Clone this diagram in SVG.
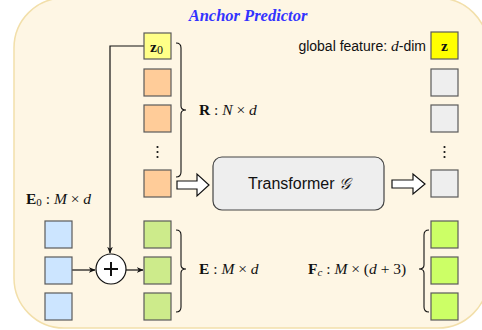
<svg xmlns="http://www.w3.org/2000/svg" width="482" height="330" viewBox="0 0 482 330">
<defs>
<style>
.bg{fill:#fef6e4;stroke:#f2dfaa;stroke-width:1.5}
.box{stroke:#5a5a5a;stroke-width:1.2}
.or{fill:#ffcc99}.bl{fill:#cce5ff}.gr{fill:#cdeb8b}.gr2{fill:#ccff66}.gy{fill:#eeeeee}.y1{fill:#ffff88}.y2{fill:#ffff00}
.ln{fill:none;stroke:#111;stroke-width:1.2}
.br{fill:none;stroke:#111;stroke-width:1.1}
.m{font-family:"Liberation Serif","DejaVu Serif",serif;font-size:15.5px;fill:#111}
.s{font-family:"Liberation Sans",Arial,sans-serif;fill:#111}
.b{font-weight:bold}.i{font-style:italic}
.dots{fill:#111}
.ha{fill:#fff;stroke:#111;stroke-width:1.2}
</style>
<marker id="ah" viewBox="0 0 10 10" refX="9" refY="5" markerWidth="7" markerHeight="7" orient="auto" markerUnits="userSpaceOnUse">
<path d="M0,1 L10,5 L0,9 L3,5 Z" fill="#111"/>
</marker>
</defs>
<rect class="bg" x="14" y="-2" width="474" height="330" rx="50"/>
<text x="248" y="21" text-anchor="middle" font-family="Liberation Serif,serif" font-size="16.5" font-weight="bold" font-style="italic" fill="#3333ff">Anchor Predictor</text>

<g id="connectors">
<path class="ln" d="M144,46 H110 V253" marker-end="url(#ah)"/>
<path class="ln" d="M72,270 H95" marker-end="url(#ah)"/>
<path class="ln" d="M126,270 H143" marker-end="url(#ah)"/>
<path class="ha" d="M177,181 H197 V174 L209,185 L197,196 V189 H177 Z"/>
<path class="ha" d="M392,180 H413 V174 L425,184 L413,194 V188 H392 Z"/>
</g>

<g id="z0"><rect class="box y1" x="144" y="33" width="27" height="26"/><text class="m b" x="150" y="52" font-size="16">z<tspan font-weight="normal" font-size="12" dy="2">0</tspan></text></g>
<g id="r1"><rect class="box or" x="144" y="69" width="27" height="27"/></g>
<g id="r2"><rect class="box or" x="144" y="105" width="27" height="27"/></g>
<g id="rdots"><circle class="dots" cx="157.5" cy="147" r="1.1"/><circle class="dots" cx="157.5" cy="152" r="1.1"/><circle class="dots" cx="157.5" cy="157" r="1.1"/></g>
<g id="r3"><rect class="box or" x="144" y="170" width="27" height="27"/></g>

<g id="e0a"><rect class="box bl" x="45" y="221" width="27" height="27"/></g>
<g id="e0b"><rect class="box bl" x="45" y="257" width="27" height="27"/></g>
<g id="e0c"><rect class="box bl" x="45" y="293" width="27" height="27"/></g>
<text class="m" x="26" y="204"><tspan class="b">E</tspan><tspan font-size="11" dy="2">0</tspan><tspan dy="-2"> : </tspan><tspan class="i">M</tspan> × <tspan class="i">d</tspan></text>

<g id="plus"><circle cx="111" cy="269" r="15" fill="#fff" stroke="#111" stroke-width="1.2"/><path d="M104,269 H118 M111,262 V276" stroke="#111" stroke-width="2"/></g>

<g id="ea"><rect class="box gr" x="144" y="221" width="27" height="27"/></g>
<g id="eb"><rect class="box gr" x="144" y="257" width="27" height="27"/></g>
<g id="ec"><rect class="box gr" x="144" y="293" width="27" height="27"/></g>

<path class="br" d="M176,43 Q181,43 181,48 L181,106 Q181,110 186,110 Q181,110 181,114 L181,172 Q181,177 176,177"/>
<text class="m" x="199" y="115"><tspan class="b">R</tspan> : <tspan class="i">N</tspan> × <tspan class="i">d</tspan></text>
<path class="br" d="M176,230 Q181,230 181,235 L181,265 Q181,269 186,269 Q181,269 181,273 L181,307 Q181,312 176,312"/>
<text class="m" x="199" y="274"><tspan class="b">E</tspan> : <tspan class="i">M</tspan> × <tspan class="i">d</tspan></text>

<g id="transformer"><rect x="213" y="157" width="171" height="53" rx="9" fill="#eeeeee" stroke="#444" stroke-width="1.2"/><text class="s" x="299" y="189" font-size="16" text-anchor="middle">Transformer <tspan font-family="Liberation Serif,serif" font-style="italic">𝒢</tspan></text></g>

<text class="s" x="426" y="51" font-size="14" text-anchor="end">global feature: <tspan font-family="Liberation Serif,serif" font-style="italic" font-size="15.5">d</tspan>-dim</text>
<g id="z"><rect class="box y2" x="431" y="32" width="27" height="27"/><text class="m b" x="444.5" y="51" font-size="16" text-anchor="middle">z</text></g>
<g id="g1"><rect class="box gy" x="431" y="69" width="27" height="27"/></g>
<g id="g2"><rect class="box gy" x="431" y="105" width="27" height="27"/></g>
<g id="gdots"><circle class="dots" cx="444.5" cy="147" r="1.1"/><circle class="dots" cx="444.5" cy="152" r="1.1"/><circle class="dots" cx="444.5" cy="157" r="1.1"/></g>
<g id="g3"><rect class="box gy" x="431" y="170" width="27" height="27"/></g>
<g id="fa"><rect class="box gr2" x="431" y="221" width="27" height="27"/></g>
<g id="fb"><rect class="box gr2" x="431" y="257" width="27" height="27"/></g>
<g id="fc"><rect class="box gr2" x="431" y="293" width="27" height="27"/></g>
<path class="br" d="M429,230 Q424,230 424,235 L424,265 Q424,269 419,269 Q424,269 424,273 L424,307 Q424,312 429,312"/>
<text class="m" x="308" y="274"><tspan class="b">F</tspan><tspan class="i" font-size="11" dy="2">c</tspan><tspan dy="-2"> : </tspan><tspan class="i">M</tspan> × (<tspan class="i">d</tspan> + 3)</text>
</svg>
